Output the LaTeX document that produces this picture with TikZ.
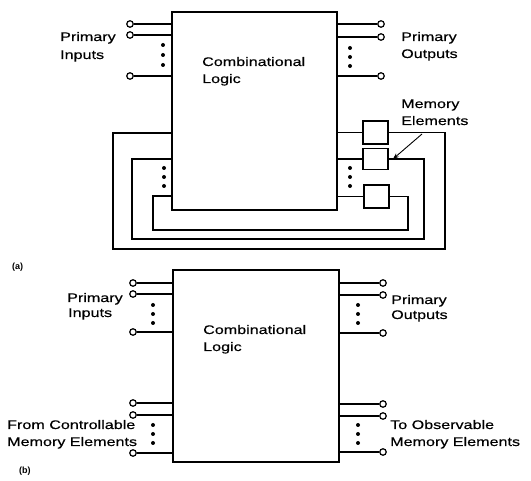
\documentclass[tikz,border=0pt]{standalone}
\usepackage{fontspec}
\setmainfont{Liberation Sans}
\newfontfamily\lblfont[FakeStretch=1.3,FakeBold=0.4]{Liberation Sans}
\usetikzlibrary{arrows.meta,calc}
\begin{document}
\begin{tikzpicture}[x=1pt,y=-1pt,
  wire/.style={line width=1.25pt},
  frame/.style={draw,line width=1.5pt,rectangle,inner sep=0pt},
  membox/.style={draw,line width=1.4pt,rectangle,inner sep=0pt,minimum width=25pt},
  pin/.style={circle,draw,line width=1.2pt,fill=white,minimum size=6.5pt,inner sep=0pt},
  dot/.style={circle,fill,minimum size=4pt,inner sep=0pt},
  lbl/.style={anchor=base west,inner sep=0pt,font=\lblfont\fontsize{12.4}{14}\selectfont},
  tag/.style={anchor=base west,inner sep=0pt,font=\bfseries\fontsize{9}{10}\selectfont},
  ptr/.style={line width=0.9pt,-{Stealth[length=6pt,width=4.5pt]}}]
\useasboundingbox (0,0) rectangle (531,481);
\fill[white] (0,0) rectangle (531,481);

% ---------------- (a) ----------------
\node[frame,minimum width=165pt,minimum height=198pt] (boxA) at (254.5,111) {};
% primary inputs
\node[pin] (ai1) at (130,24) {};
\node[pin] (ai2) at (130,35) {};
\node[pin] (ai3) at (130,76) {};
\foreach \p in {ai1,ai2,ai3} \draw[wire] (\p) -- (\p -| boxA.west);
\node[dot] (adi1) at (163,45) {};
\node[dot] (adi2) at (163,55) {};
\node[dot] (adi3) at (163,65) {};
% primary outputs
\node[pin] (ao1) at (381,24) {};
\node[pin] (ao2) at (381,37) {};
\node[pin] (ao3) at (381,76) {};
\foreach \p in {ao1,ao2,ao3} \draw[wire] (\p -| boxA.east) -- (\p);
\node[dot] (ado1) at (350,48) {};
\node[dot] (ado2) at (350,57) {};
\node[dot] (ado3) at (350,66) {};
% memory elements
\node[membox,minimum height=23pt] (m1) at (375.5,132.5) {};
\node[membox,minimum height=21pt] (m2) at (375.5,159) {};
\node[membox,minimum height=23pt] (m3) at (376.5,196.5) {};
\foreach \m in {m1,m2,m3} \draw[wire] (boxA.east |- \m.west) -- (\m.west);
\node[dot] (adm1) at (350,168) {};
\node[dot] (adm2) at (350,177) {};
\node[dot] (adm3) at (350,186) {};
% feedback loops
\coordinate (r1) at (445,249); \coordinate (q1) at (113,133);
\coordinate (r2) at (424,239); \coordinate (q2) at (132,159);
\coordinate (r3) at (408,230); \coordinate (q3) at (153,196);
\draw[wire] (m1.east) -| (r1) -| (q1) -- (q1 -| boxA.west);
\draw[wire] (m2.east) -| (r2) -| (q2) -- (q2 -| boxA.west);
\draw[wire] (m3.east) -| (r3) -| (q3) -- (q3 -| boxA.west);
\node[dot] (adf1) at (164,168) {};
\node[dot] (adf2) at (164,177) {};
\node[dot] (adf3) at (164,186) {};
% labels
\node[lbl] (piA1) at (60,41) {Primary};
\node[lbl] (piA2) at (60,59) {Inputs};
\node[lbl] (clA1) at (202,66) {Combinational};
\node[lbl] (clA2) at (202,83) {Logic};
\node[lbl] (poA1) at (401,41) {Primary};
\node[lbl] (poA2) at (401,58) {Outputs};
\node[lbl] (meA1) at (401,108) {Memory};
\node[lbl] (meA2) at (401,125) {Elements};
\coordinate (memtail) at (422,134);
\coordinate (memtip) at (393,159);
\draw[ptr] (memtail) -- (memtip);
\node[tag] (tagA) at (12,270) {(a)};

% ---------------- (b) ----------------
\node[frame,minimum width=166pt,minimum height=192pt] (boxB) at (256,366) {};
\node[pin] (bi1) at (133,283) {};
\node[pin] (bi2) at (133,294) {};
\node[pin] (bi3) at (133,332) {};
\node[pin] (bi4) at (133,403) {};
\node[pin] (bi5) at (133,415) {};
\node[pin] (bi6) at (133,453) {};
\foreach \p in {bi1,bi2,bi3,bi4,bi5,bi6} \draw[wire] (\p) -- (\p -| boxB.west);
\node[dot] (bdi1) at (153,305) {};
\node[dot] (bdi2) at (153,314) {};
\node[dot] (bdi3) at (153,323) {};
\node[dot] (bdi4) at (153,425) {};
\node[dot] (bdi5) at (153,434) {};
\node[dot] (bdi6) at (153,443) {};
\node[pin] (bo1) at (383,283) {};
\node[pin] (bo2) at (383,295) {};
\node[pin] (bo3) at (383,333) {};
\node[pin] (bo4) at (383,404) {};
\node[pin] (bo5) at (383,416) {};
\node[pin] (bo6) at (383,452) {};
\foreach \p in {bo1,bo2,bo3,bo4,bo5,bo6} \draw[wire] (\p -| boxB.east) -- (\p);
\node[dot] (bdo1) at (358,305) {};
\node[dot] (bdo2) at (358,314) {};
\node[dot] (bdo3) at (358,323) {};
\node[dot] (bdo4) at (358,425) {};
\node[dot] (bdo5) at (358,434) {};
\node[dot] (bdo6) at (358,443) {};
\node[lbl] (piB1) at (67,302) {Primary};
\node[lbl] (piB2) at (68,317) {Inputs};
\node[lbl] (clB1) at (203,334) {Combinational};
\node[lbl] (clB2) at (203,351) {Logic};
\node[lbl] (fcB1) at (7,429) {From Controllable};
\node[lbl] (fcB2) at (7,446) {Memory Elements};
\node[lbl] (poB1) at (391,304) {Primary};
\node[lbl] (poB2) at (391,319) {Outputs};
\node[lbl] (toB1) at (390,429) {To Observable};
\node[lbl] (toB2) at (390,446) {Memory Elements};
\node[tag] (tagB) at (19,474) {(b)};
\end{tikzpicture}
\end{document}
